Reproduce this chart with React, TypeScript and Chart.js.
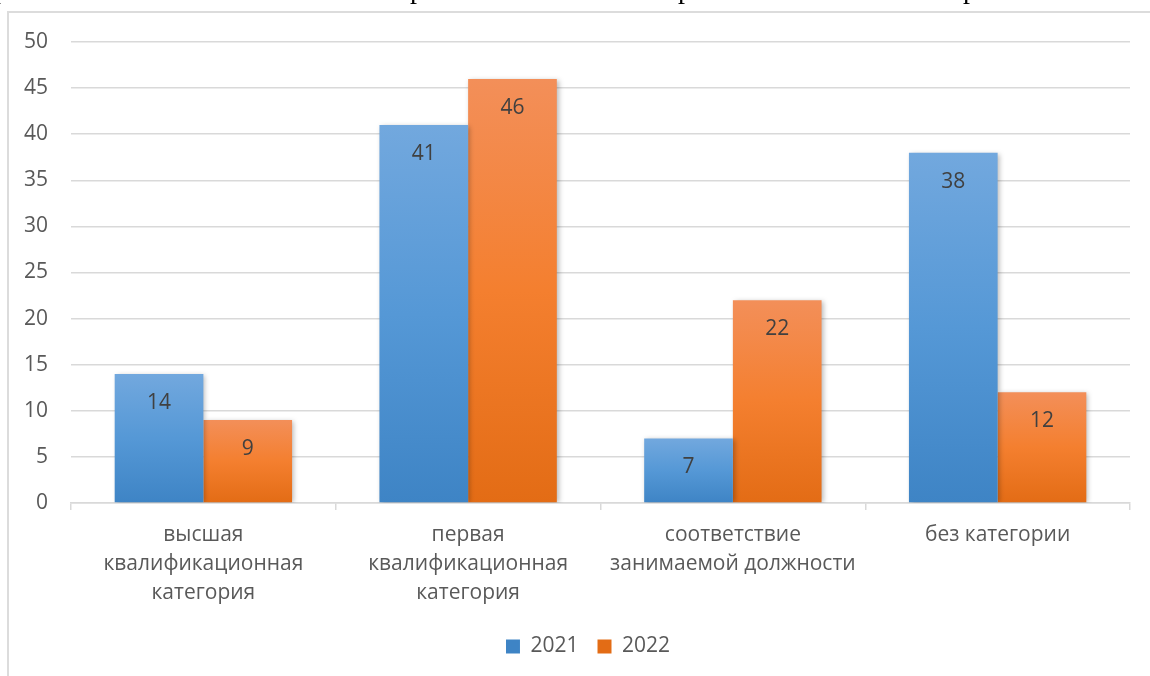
import React, { useEffect, useRef } from "react";
import { Chart, registerables } from "chart.js";

Chart.register(...registerables);

const categories: string[][] = [
  ["высшая", "квалификационная", "категория"],
  ["первая", "квалификационная", "категория"],
  ["соответствие", "занимаемой должности"],
  ["без категории"],
];
const values2021 = [14, 41, 7, 38];
const values2022 = [9, 46, 22, 12];
const seriesNames = ["2021", "2022"];
const yMin = 0;
const yMax = 50;
const yStep = 5;

const FONT = "'Open Sans', 'Noto Sans', sans-serif";
const FS = 21;
const blueStops = ["#72a8de", "#5598d6", "#3e84c5"];
const orangeStops = ["#f38f59", "#f47f2f", "#e36c15"];

function barGradient(stops: string[]) {
  return (ctx: any) => {
    const chart = ctx.chart;
    const y = chart.scales?.y;
    if (ctx.type !== "data" || !chart.chartArea || !y) return stops[1];
    const top = y.getPixelForValue(ctx.raw);
    const bottom = y.getPixelForValue(0);
    if (!isFinite(top) || !isFinite(bottom) || top === bottom) return stops[1];
    const g = chart.ctx.createLinearGradient(0, top, 0, bottom);
    g.addColorStop(0, stops[0]);
    g.addColorStop(0.5, stops[1]);
    g.addColorStop(1, stops[2]);
    return g;
  };
}

const shadowPlugin = {
  id: "barShadow",
  beforeDatasetsDraw(chart: any) {
    const c = chart.ctx;
    c.save();
    c.shadowColor = "rgba(0,0,0,0.28)";
    c.shadowBlur = 5;
    c.shadowOffsetX = 2;
    c.shadowOffsetY = 1;
  },
  afterDatasetsDraw(chart: any) {
    chart.ctx.restore();
  },
};

const valueLabelPlugin = {
  id: "valueLabels",
  afterDatasetsDraw(chart: any) {
    const c = chart.ctx;
    c.save();
    c.font = `${FS}px ${FONT}`;
    c.fillStyle = "#404040";
    c.textAlign = "center";
    c.textBaseline = "middle";
    chart.data.datasets.forEach((ds: any, i: number) => {
      const meta = chart.getDatasetMeta(i);
      meta.data.forEach((bar: any, j: number) => {
        c.fillText(String(ds.data[j]), bar.x, bar.y + 29);
      });
    });
    c.restore();
  },
};

// centre the legend on the chart frame rather than on the canvas
const legendShiftPlugin = {
  id: "legendShift",
  afterLayout(chart: any) {
    if (chart.legend) {
      chart.legend.left += 46;
    }
  },
};

export default function App() {
  const ref = useRef<HTMLCanvasElement | null>(null);

  useEffect(() => {
    if (!ref.current) return;
    Chart.defaults.font.family = FONT;
    const chart = new Chart(ref.current, {
      type: "bar",
      data: {
        labels: categories as any,
        datasets: [
          {
            label: seriesNames[0],
            data: values2021,
            backgroundColor: barGradient(blueStops) as any,
            borderWidth: 0,
          },
          {
            label: seriesNames[1],
            data: values2022,
            backgroundColor: barGradient(orangeStops) as any,
            borderWidth: 0,
          },
        ],
      },
      options: {
        responsive: false,
        animation: false,
        devicePixelRatio: 1,
        layout: { padding: { top: 42, right: 20, bottom: 9, left: 0 } },
        datasets: {
          bar: { categoryPercentage: 0.67, barPercentage: 1 },
        },
        plugins: {
          tooltip: { enabled: false },
          legend: {
            position: "bottom",
            labels: {
              boxWidth: 14,
              boxHeight: 14,
              color: "#595959",
              font: { size: FS, family: FONT },
              padding: 19,
            },
          },
        },
        scales: {
          x: {
            grid: {
              drawOnChartArea: false,
              drawTicks: true,
              tickLength: 7,
              color: "#d9d9d9",
              lineWidth: 1.5,
            },
            border: { color: "#d9d9d9", width: 1.5 },
            ticks: {
              color: "#595959",
              font: { size: FS, family: FONT, lineHeight: 29 / FS },
              padding: 11,
              maxRotation: 0,
              autoSkip: false,
            },
            afterFit(scale: any) {
              scale.height = 114;
            },
          },
          y: {
            min: yMin,
            max: yMax,
            ticks: {
              stepSize: yStep,
              color: "#595959",
              font: { size: FS, family: FONT },
              padding: 23,
            },
            grid: { color: "#d9d9d9", lineWidth: 1.5, drawTicks: false },
            border: { display: false },
            afterFit(scale: any) {
              scale.width = 71;
            },
          },
        },
      },
      plugins: [shadowPlugin, valueLabelPlugin, legendShiftPlugin],
    });
    return () => chart.destroy();
  }, []);

  const descStyle = (left: number): React.CSSProperties => ({
    position: "fixed",
    left,
    top: -25,
    fontFamily: "'Liberation Serif', serif",
    fontSize: 28,
    lineHeight: "28px",
    color: "#000",
  });

  return (
    <div>
      <div style={descStyle(-6)}>р</div>
      <div style={descStyle(410)}>р</div>
      <div style={descStyle(678)}>р</div>
      <div style={descStyle(963)}>р</div>
      <div
        style={{
          position: "fixed",
          left: 7,
          top: 11,
          right: 0,
          bottom: 0,
          borderLeft: "2px solid #dcdcdc",
          borderTop: "2px solid #dcdcdc",
        }}
      />
      <canvas
        ref={ref}
        width={1150}
        height={676}
        style={{ position: "fixed", left: 0, top: 0, width: 1150, height: 676 }}
      />
    </div>
  );
}
